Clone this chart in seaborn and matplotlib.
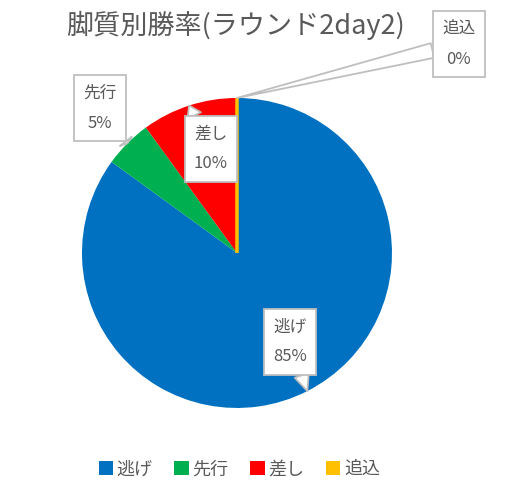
import numpy as np
import matplotlib
matplotlib.use("Agg")
import matplotlib.pyplot as plt
import seaborn as sns

sns.set_theme(style="white")
plt.rcParams['font.family'] = ['Noto Sans CJK JP', 'DejaVu Sans']

# data
categories = ['逃げ', '先行', '差し', '追込']
win_rate = [85, 5, 10, 0]
colors = sns.color_palette(['#0070C0', '#00B050', '#FF0000', '#FFC000'])
title = '脚質別勝率(ラウンド2day2)'

# label box centres (axes data units, pie radius = 1)
label_pos = [(0.342, -0.574), (-0.884, 0.935), (-0.168, 0.671), (1.432, 1.348)]

text_col = '#595959'
edge_col = '#bfbfbf'

fig = plt.figure(figsize=(5.09, 4.94), dpi=100)
ax = fig.add_axes([0, 0, 1, 1])

wedges, _ = ax.pie(win_rate, colors=colors, startangle=90, counterclock=False,
                   radius=1, wedgeprops=dict(linewidth=0))
# zero wedge only shows as its edge
for w, v, c in zip(wedges, win_rate, colors):
    if v == 0:
        w.set_edgecolor(c)
        w.set_linewidth(2.5)

ax.set_xlim(-1.529, 1.755)
ax.set_ylim(-1.555, 1.632)
ax.set_aspect('equal')
ax.axis('off')

total = sum(win_rate)
for w, cat, v, pos in zip(wedges, categories, win_rate, label_pos):
    mid = np.deg2rad((w.theta1 + w.theta2) / 2)
    tip = (np.cos(mid), np.sin(mid))
    ax.annotate(f'{cat}\n{v / total * 100:.0f}%', xy=tip, xytext=pos,
                ha='center', va='center', fontsize=12, color=text_col,
                linespacing=2.0,
                bbox=dict(boxstyle='square,pad=0.55', fc='white', ec=edge_col, lw=1.3),
                arrowprops=dict(arrowstyle='wedge,tail_width=0.9,shrink_factor=0.5',
                                fc='white', ec=edge_col, lw=1.3,
                                shrinkA=0, shrinkB=0))

fig.text(0.462, 0.948, title, ha='center', va='center', fontsize=19.5, color=text_col)

handles = [plt.Rectangle((0, 0), 1, 1, fc=c, ec='none') for c in colors]
fig.legend(handles, categories, loc='center', bbox_to_anchor=(0.47, 0.05),
           ncol=4, frameon=False, fontsize=13, handlelength=0.8, handleheight=0.8,
           handletextpad=0.2, columnspacing=1.2, labelcolor=text_col)

fig.savefig('out.png', dpi=100)
